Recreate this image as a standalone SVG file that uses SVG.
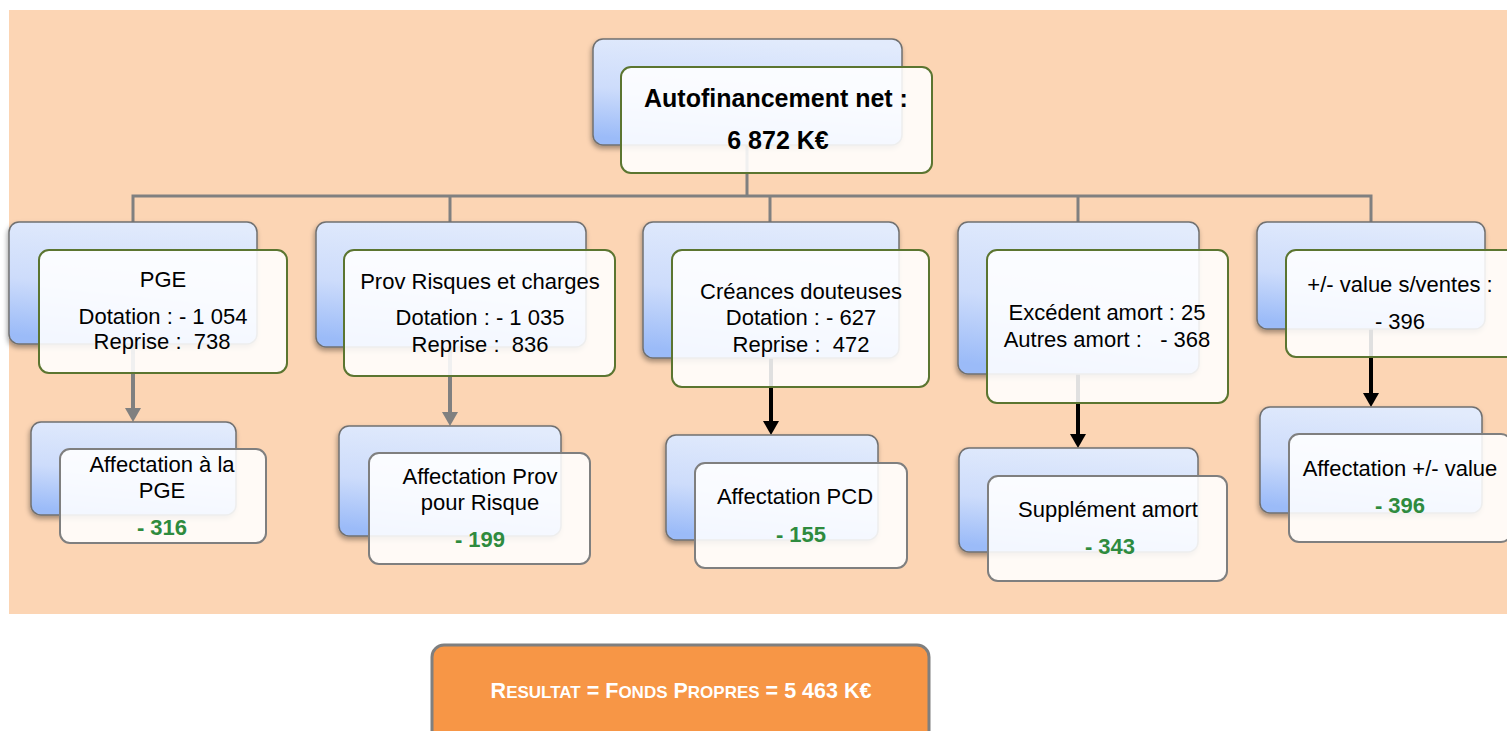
<svg xmlns="http://www.w3.org/2000/svg" width="1507" height="731" viewBox="0 0 1507 731">
<defs>
<linearGradient id="blue" x1="0.6" y1="0" x2="0.4" y2="1">
<stop offset="0" stop-color="#e2ebfc"/>
<stop offset="0.55" stop-color="#cddcfb"/>
<stop offset="1" stop-color="#9bbbf8"/>
</linearGradient>
<filter id="sh" x="-10%" y="-10%" width="130%" height="140%">
<feDropShadow dx="-1" dy="3" stdDeviation="2.5" flood-color="#000" flood-opacity="0.35"/>
</filter>
<marker id="ag" markerUnits="userSpaceOnUse" markerWidth="16" markerHeight="16" refX="0" refY="8" orient="auto" viewBox="0 0 16 16">
<path d="M0,0 L14,8 L0,16 z" fill="#808080"/>
</marker>
<marker id="ab" markerUnits="userSpaceOnUse" markerWidth="16" markerHeight="16" refX="0" refY="8" orient="auto" viewBox="0 0 16 16">
<path d="M0,0 L14,8 L0,16 z" fill="#000"/>
</marker>
<style>
.back{fill:url(#blue);stroke:#707070;stroke-width:1.5;filter:url(#sh)}
.f1{fill:#ffffff;fill-opacity:0.88;stroke:#5b7530;stroke-width:2}
.f2{fill:#ffffff;fill-opacity:0.88;stroke:#7f7f7f;stroke-width:2}
.t{font-family:"Liberation Sans",Arial,sans-serif;font-size:22px;fill:#000;text-anchor:middle;white-space:pre}
.tb{font-family:"Liberation Sans",Arial,sans-serif;font-size:25px;font-weight:bold;fill:#000;text-anchor:middle}
.g{font-family:"Liberation Sans",Arial,sans-serif;font-size:22px;font-weight:bold;fill:#2e8b3e;text-anchor:middle}
.tree{fill:none;stroke:#808080;stroke-width:3}
.ar-g{stroke:#808080;stroke-width:4;fill:none}
.ar-b{stroke:#000;stroke-width:4;fill:none}
</style>
</defs>
<rect x="9" y="10" width="1498" height="604" fill="#fcd5b4"/>
<g id="connectors">
<path class="tree" d="M747,145 V196 M133,222 V196 H1371 V222 M450,196 V222 M770,196 V222 M1078,196 V222"/>
<line class="ar-g" x1="133" y1="344" x2="133" y2="408" marker-end="url(#ag)"/>
<line class="ar-g" x1="450" y1="347" x2="450" y2="412" marker-end="url(#ag)"/>
<line class="ar-b" x1="771" y1="358" x2="771" y2="421" marker-end="url(#ab)"/>
<line class="ar-b" x1="1078" y1="374" x2="1078" y2="434" marker-end="url(#ab)"/>
<line class="ar-b" x1="1371" y1="329" x2="1371" y2="393" marker-end="url(#ab)"/>
</g>
<g id="root">
<rect class="back" x="593" y="39" width="309" height="106" rx="10"/>
<rect class="f1" x="621" y="67" width="311" height="106" rx="10"/>
<text class="tb" x="776" y="107">Autofinancement net :</text>
<text class="tb" x="778" y="149">6 872 K€</text>
</g>
<g id="pge">
<rect class="back" x="9" y="222" width="248" height="122" rx="10"/>
<rect class="f1" x="39" y="250" width="248" height="123" rx="10"/>
<text class="t" x="163" y="287">PGE</text>
<text class="t" x="163" y="324">Dotation : - 1 054</text>
<text class="t" x="162" y="349">Reprise :  738</text>
</g>
<g id="prov">
<rect class="back" x="316" y="222" width="270" height="125" rx="10"/>
<rect class="f1" x="344" y="250" width="271" height="126" rx="10"/>
<text class="t" x="480" y="289">Prov Risques et charges</text>
<text class="t" x="480" y="325">Dotation : - 1 035</text>
<text class="t" x="480" y="352">Reprise :  836</text>
</g>
<g id="creances">
<rect class="back" x="643" y="222" width="256" height="136" rx="10"/>
<rect class="f1" x="672" y="250" width="257" height="137" rx="10"/>
<text class="t" x="801" y="299">Créances douteuses</text>
<text class="t" x="801" y="325">Dotation : - 627</text>
<text class="t" x="801" y="352">Reprise :  472</text>
</g>
<g id="amort">
<rect class="back" x="958" y="222" width="241" height="152" rx="10"/>
<rect class="f1" x="987" y="250" width="241" height="153" rx="10"/>
<text class="t" x="1107" y="320">Excédent amort : 25</text>
<text class="t" x="1107" y="347">Autres amort :   - 368</text>
</g>
<g id="plusvalue">
<rect class="back" x="1257" y="222" width="228" height="107" rx="10"/>
<rect class="f1" x="1286" y="250" width="230" height="107" rx="10"/>
<text class="t" x="1400" y="292">+/- value s/ventes :</text>
<text class="t" x="1400" y="329">- 396</text>
</g>
<g id="aff-pge">
<rect class="back" x="31" y="422" width="205" height="93" rx="10"/>
<rect class="f2" x="60" y="449" width="206" height="94" rx="10"/>
<text class="t" x="162" y="472">Affectation à la</text>
<text class="t" x="162" y="498">PGE</text>
<text class="g" x="162" y="535">- 316</text>
</g>
<g id="aff-prov">
<rect class="back" x="339" y="426" width="222" height="110" rx="10"/>
<rect class="f2" x="369" y="453" width="221" height="111" rx="10"/>
<text class="t" x="480" y="484">Affectation Prov</text>
<text class="t" x="480" y="510">pour Risque</text>
<text class="g" x="480" y="547">- 199</text>
</g>
<g id="aff-pcd">
<rect class="back" x="666" y="435" width="212" height="105" rx="10"/>
<rect class="f2" x="695" y="463" width="212" height="105" rx="10"/>
<text class="t" x="795" y="504">Affectation PCD</text>
<text class="g" x="801" y="542">- 155</text>
</g>
<g id="supp-amort">
<rect class="back" x="959" y="448" width="239" height="104" rx="10"/>
<rect class="f2" x="988" y="476" width="239" height="105" rx="10"/>
<text class="t" x="1108" y="517">Supplément amort</text>
<text class="g" x="1110" y="554">- 343</text>
</g>
<g id="aff-value">
<rect class="back" x="1260" y="407" width="222" height="106" rx="10"/>
<rect class="f2" x="1289" y="434" width="222" height="108" rx="10"/>
<text class="t" x="1400" y="476">Affectation +/- value</text>
<text class="g" x="1400" y="513">- 396</text>
</g>
<g id="resultat">
<rect x="432" y="645" width="497" height="100" rx="12" fill="#f79646" stroke="#7f7f7f" stroke-width="3"/>
<text x="681" y="698" font-family="'Liberation Sans',Arial,sans-serif" font-weight="bold" fill="#fff" text-anchor="middle" font-size="21.5"><tspan>R</tspan><tspan font-size="17">ESULTAT</tspan> = <tspan>F</tspan><tspan font-size="17">ONDS</tspan> <tspan>P</tspan><tspan font-size="17">ROPRES</tspan> = 5 463 K€</text>
</g>
</svg>
